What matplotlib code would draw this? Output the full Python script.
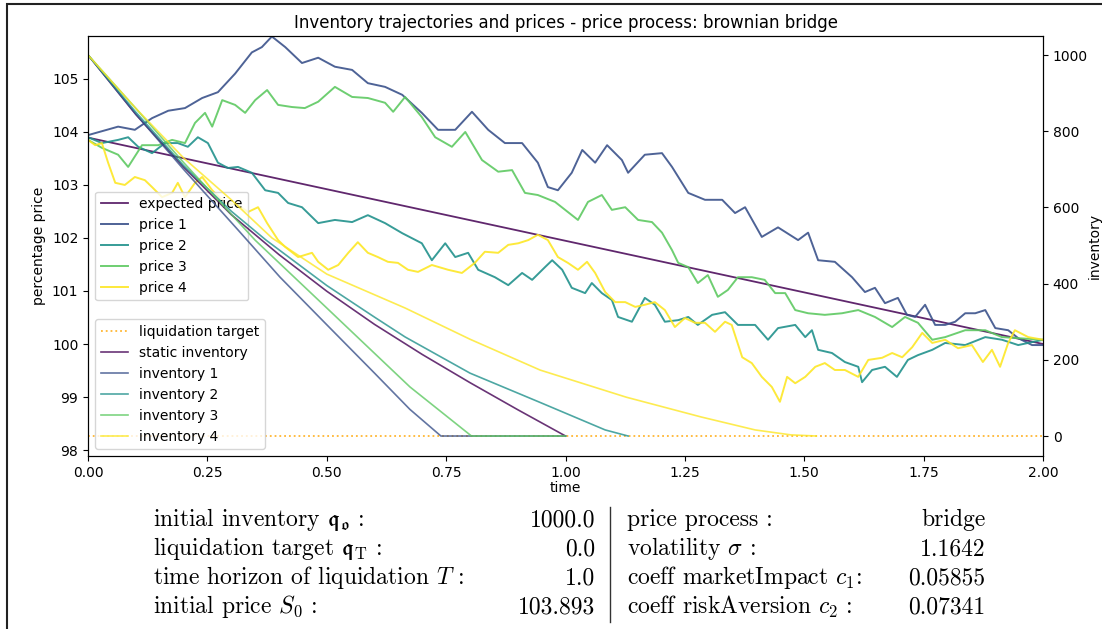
import matplotlib
matplotlib.use('Agg')
import matplotlib.pyplot as plt
from matplotlib.patches import Rectangle

plt.rcParams['mathtext.fontset'] = 'cm'

# expected price (straight line from S0 to the bridge end)
t_expected = [0.0, 2.0]
expected_price = [103.893, 100.0]

# price paths
t_p1 = [0.0, 0.063, 0.098, 0.134, 0.168, 0.203, 0.239, 0.272, 0.308, 0.343, 0.364, 0.385, 0.413, 0.448,
        0.482, 0.517, 0.553, 0.586, 0.622, 0.658, 0.699, 0.733, 0.769, 0.804, 0.838, 0.873, 0.909, 0.942,
        0.963, 0.984, 1.013, 1.035, 1.062, 1.087, 1.118, 1.131, 1.166, 1.202, 1.223, 1.257, 1.292, 1.328,
        1.355, 1.376, 1.411, 1.445, 1.487, 1.508, 1.529, 1.564, 1.600, 1.627, 1.648, 1.669, 1.696, 1.715,
        1.732, 1.753, 1.774, 1.795, 1.816, 1.837, 1.858, 1.879, 1.900, 1.927, 1.948, 1.977, 2.0]
price1 = [103.94, 104.10, 104.04, 104.26, 104.40, 104.45, 104.64, 104.75, 105.10, 105.50, 105.60, 105.80,
          105.60, 105.30, 105.40, 105.23, 105.17, 104.92, 104.85, 104.70, 104.36, 104.04, 104.04, 104.38,
          104.04, 103.79, 103.79, 103.42, 102.96, 102.90, 103.23, 103.66, 103.42, 103.75, 103.47, 103.23,
          103.57, 103.60, 103.34, 102.85, 102.72, 102.72, 102.47, 102.58, 102.02, 102.20, 101.96, 102.10,
          101.58, 101.55, 101.26, 100.98, 101.06, 100.77, 100.87, 100.55, 100.51, 100.74, 100.36, 100.36,
          100.42, 100.58, 100.58, 100.64, 100.30, 100.26, 100.11, 99.98, 99.98]

t_p2 = [0.0, 0.029, 0.063, 0.084, 0.105, 0.134, 0.161, 0.188, 0.209, 0.230, 0.251, 0.272, 0.293, 0.314,
        0.343, 0.371, 0.398, 0.419, 0.448, 0.482, 0.517, 0.553, 0.586, 0.622, 0.658, 0.699, 0.720, 0.748,
        0.769, 0.796, 0.817, 0.852, 0.880, 0.909, 0.930, 0.957, 0.972, 0.993, 1.013, 1.041, 1.055, 1.076,
        1.097, 1.110, 1.139, 1.166, 1.187, 1.208, 1.236, 1.257, 1.277, 1.307, 1.334, 1.361, 1.397, 1.424,
        1.445, 1.481, 1.502, 1.516, 1.529, 1.558, 1.585, 1.613, 1.621, 1.642, 1.669, 1.694, 1.717, 1.738,
        1.768, 1.795, 1.837, 1.879, 1.914, 1.948, 2.0]
price2 = [103.90, 103.79, 103.85, 103.90, 103.72, 103.60, 103.79, 103.79, 103.72, 103.90, 103.79, 103.42,
          103.32, 103.34, 103.23, 102.90, 102.85, 102.66, 102.58, 102.28, 102.34, 102.30, 102.43, 102.28,
          102.09, 101.90, 101.58, 101.90, 101.64, 101.72, 101.40, 101.26, 101.11, 101.34, 101.21, 101.45,
          101.58, 101.40, 101.06, 100.96, 101.15, 100.96, 100.83, 100.51, 100.42, 100.87, 100.74, 100.42,
          100.45, 100.51, 100.36, 100.55, 100.60, 100.36, 100.36, 100.08, 100.30, 100.36, 100.13, 100.26,
          99.89, 99.83, 99.66, 99.57, 99.28, 99.51, 99.57, 99.38, 99.70, 99.79, 99.89, 100.02, 99.98,
          100.13, 100.08, 99.98, 100.08]

t_p3 = [0.0, 0.029, 0.063, 0.084, 0.113, 0.147, 0.176, 0.203, 0.224, 0.245, 0.260, 0.281, 0.308, 0.329,
        0.350, 0.375, 0.398, 0.427, 0.454, 0.482, 0.517, 0.553, 0.586, 0.622, 0.639, 0.664, 0.699, 0.727,
        0.762, 0.790, 0.825, 0.859, 0.888, 0.915, 0.942, 0.978, 1.026, 1.047, 1.076, 1.097, 1.125, 1.152,
        1.181, 1.202, 1.223, 1.236, 1.257, 1.277, 1.298, 1.319, 1.340, 1.361, 1.390, 1.417, 1.439, 1.460,
        1.481, 1.508, 1.543, 1.579, 1.613, 1.648, 1.684, 1.711, 1.738, 1.768, 1.795, 1.837, 1.879, 1.914,
        1.948, 2.0]
price3 = [103.85, 103.70, 103.57, 103.34, 103.75, 103.75, 103.85, 103.79, 104.17, 104.36, 104.10, 104.60,
          104.51, 104.36, 104.60, 104.79, 104.51, 104.47, 104.45, 104.57, 104.85, 104.66, 104.64, 104.55,
          104.38, 104.66, 104.28, 103.90, 103.72, 104.00, 103.47, 103.25, 103.28, 102.85, 102.81, 102.68,
          102.34, 102.68, 102.81, 102.53, 102.58, 102.34, 102.30, 102.10, 101.77, 101.53, 101.45, 101.15,
          101.30, 100.89, 101.02, 101.26, 101.26, 101.21, 100.96, 100.96, 100.64, 100.58, 100.55, 100.58,
          100.64, 100.51, 100.32, 100.51, 100.40, 100.08, 100.13, 100.26, 100.26, 100.13, 100.11, 100.08]

t_p4 = [0.0, 0.015, 0.029, 0.042, 0.057, 0.077, 0.098, 0.119, 0.134, 0.155, 0.176, 0.188, 0.203, 0.224,
        0.239, 0.260, 0.287, 0.314, 0.335, 0.356, 0.375, 0.398, 0.413, 0.440, 0.469, 0.482, 0.503, 0.524,
        0.545, 0.565, 0.586, 0.607, 0.628, 0.649, 0.670, 0.691, 0.720, 0.754, 0.783, 0.810, 0.831, 0.859,
        0.880, 0.901, 0.922, 0.942, 0.963, 0.984, 1.005, 1.026, 1.045, 1.062, 1.083, 1.104, 1.125, 1.146,
        1.166, 1.187, 1.208, 1.229, 1.250, 1.271, 1.292, 1.313, 1.334, 1.348, 1.370, 1.390, 1.411, 1.432,
        1.449, 1.464, 1.481, 1.502, 1.523, 1.543, 1.564, 1.585, 1.613, 1.634, 1.663, 1.684, 1.705, 1.726,
        1.747, 1.768, 1.795, 1.822, 1.851, 1.874, 1.893, 1.910, 1.927, 1.941, 1.969, 2.0]
price4 = [103.85, 103.75, 103.79, 103.42, 103.04, 103.00, 103.15, 103.09, 102.96, 102.77, 102.85, 103.04,
          102.77, 103.04, 103.15, 102.90, 102.66, 102.62, 102.49, 102.58, 102.28, 101.96, 101.83, 101.64,
          101.72, 101.55, 101.40, 101.49, 101.72, 101.92, 101.72, 101.64, 101.55, 101.53, 101.40, 101.36,
          101.49, 101.40, 101.34, 101.53, 101.74, 101.72, 101.87, 101.90, 101.96, 102.06, 101.96, 101.64,
          101.53, 101.40, 101.55, 101.34, 100.98, 100.79, 100.79, 100.70, 100.74, 100.79, 100.64, 100.32,
          100.49, 100.40, 100.40, 100.23, 100.42, 100.36, 99.75, 99.64, 99.38, 99.19, 98.91, 99.38, 99.26,
          99.38, 99.57, 99.64, 99.51, 99.51, 99.38, 99.70, 99.74, 99.83, 99.75, 99.94, 100.21, 100.02,
          100.08, 99.92, 99.98, 99.66, 99.89, 99.57, 100.02, 100.26, 100.13, 100.08]

# inventory trajectories (right axis)
t_target = [0.0, 2.0]
target = [0, 0]
t_static = [0.0, 0.1, 0.2, 0.3, 0.4, 0.5, 0.6, 0.7, 0.8, 0.9, 1.0]
static_inv = [1000, 844, 706, 581, 476, 380, 293, 214, 140, 69, 0]
t_inv1 = [0.0, 0.1, 0.2, 0.314, 0.402, 0.5, 0.6, 0.674, 0.739, 1.0]
inv1 = [1000, 845, 700, 541, 417, 292, 165, 70, 0, 0]
t_inv2 = [0.0, 0.1, 0.2, 0.3, 0.373, 0.5, 0.6, 0.664, 0.8, 0.947, 1.083, 1.131]
inv2 = [1000, 850, 710, 590, 514, 395, 312, 260, 165, 88, 16, 0]
t_inv3 = [0.0, 0.1, 0.2, 0.35, 0.5, 0.6, 0.674, 0.803, 1.0]
inv3 = [1000, 860, 718, 514, 336, 217, 129, 0, 0]
t_inv4 = [0.0, 0.1, 0.2, 0.3, 0.385, 0.5, 0.664, 0.8, 0.947, 1.127, 1.284, 1.397, 1.472, 1.525]
inv4 = [1000, 860, 730, 620, 520, 425, 336, 254, 173, 102, 50, 16, 3, 0]

colors = ['#440154', '#3b528b', '#21918c', '#5ec962', '#fde725']

fig = plt.figure(figsize=(11.02, 6.29), dpi=100)
ax = fig.add_axes([0.0799, 0.275, 0.8666, 0.6678])
ax2 = ax.twinx()

ax.plot(t_expected, expected_price, color=colors[0], lw=1.3, alpha=0.85, label='expected price')
ax.plot(t_p1, price1, color=colors[1], lw=1.4, alpha=0.9, label='price 1')
ax.plot(t_p2, price2, color=colors[2], lw=1.4, alpha=0.9, label='price 2')
ax.plot(t_p3, price3, color=colors[3], lw=1.4, alpha=0.9, label='price 3')
ax.plot(t_p4, price4, color=colors[4], lw=1.4, alpha=0.9, label='price 4')

ax2.plot(t_target, target, color='orange', ls=':', lw=1.3, alpha=0.8, label='liquidation target')
ax2.plot(t_static, static_inv, color=colors[0], lw=1.2, alpha=0.8, label='static inventory')
ax2.plot(t_inv1, inv1, color=colors[1], lw=1.2, alpha=0.8, label='inventory 1')
ax2.plot(t_inv2, inv2, color=colors[2], lw=1.2, alpha=0.8, label='inventory 2')
ax2.plot(t_inv3, inv3, color=colors[3], lw=1.2, alpha=0.8, label='inventory 3')
ax2.plot(t_inv4, inv4, color=colors[4], lw=1.2, alpha=0.8, label='inventory 4')

ax.set_xlim(0, 2)
ax.set_ylim(97.887, 105.81)
ax2.set_ylim(-52.5, 1050)
ax.set_xticks([0, 0.25, 0.5, 0.75, 1.0, 1.25, 1.5, 1.75, 2.0])
ax.set_xticklabels(['0.00', '0.25', '0.50', '0.75', '1.00', '1.25', '1.50', '1.75', '2.00'])
ax2.set_yticks([0, 200, 400, 600, 800, 1000])
ax.tick_params(labelsize=10)
ax2.tick_params(labelsize=10)
ax.set_xlabel('time', fontsize=10, labelpad=1)
ax.set_ylabel('percentage price', fontsize=10)
ax2.set_ylabel('inventory', fontsize=10, labelpad=0)
ax.set_title('Inventory trajectories and prices - price process: brownian bridge', fontsize=12)

ax.legend(loc='center left', fontsize=10)
ax2.legend(loc='lower left', fontsize=10)

# frame around the whole figure
fig.patches.append(Rectangle((0.0065, -0.02), 1.1, 1.0136, transform=fig.transFigure,
                             fill=False, edgecolor='#222222', lw=1.5))

# parameter table
labels_left = [r'initial inventory $\mathfrak{q}_\mathfrak{o}$ :', r'liquidation target $\mathfrak{q}_\mathrm{T}$ :',
               r'time horizon of liquidation $T$ :', r'initial price $S_0$ :']
values_left = ['1000.0', '0.0', '1.0', '103.893']
labels_right = ['price process :', r'volatility $\sigma$ :', r'coeff marketImpact $c_1$:', r'coeff riskAversion $c_2$ :']
values_right = ['bridge', '1.1642', '0.05855', '0.07341']

row_y = [0.1733, 0.1272, 0.0811, 0.035]
for i in range(4):
    fig.text(0.1388, row_y[i], labels_left[i], fontsize=17, family='cmr10', va='center', ha='left')
    fig.text(0.540, row_y[i], values_left[i], fontsize=17, family='cmr10', va='center', ha='right')
    fig.text(0.569, row_y[i], labels_right[i], fontsize=17, family='cmr10', va='center', ha='left')
    fig.text(0.894, row_y[i], values_right[i], fontsize=17, family='cmr10', va='center', ha='right')
fig.add_artist(plt.Line2D([0.5535, 0.5535], [0.011, 0.194], transform=fig.transFigure, color='#333333', lw=1))

fig.savefig('out.png', dpi=100)
